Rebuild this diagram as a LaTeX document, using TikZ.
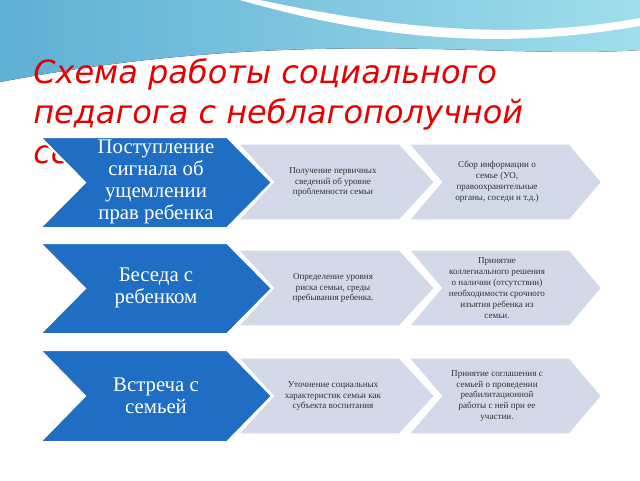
\documentclass[tikz,border=0pt]{standalone}
\usepackage{fontspec}
\setmainfont{Liberation Serif}
\newfontfamily\titlefont{DejaVu Sans}
\definecolor{chevblue}{RGB}{31,110,195}
\definecolor{chevgray}{RGB}{211,217,232}
\definecolor{titlered}{RGB}{230,0,0}
\definecolor{wavedark}{RGB}{95,175,212}
\definecolor{wavelight}{RGB}{160,222,235}
% chevron: style, left, top, tip, bottom, depth
\newcommand{\chevron}[6]{%
  \path[#1] (#2,#3) -- ({#4-#6},#3) -- (#4,{(#3+#5)/2}) -- ({#4-#6},#5)
    -- (#2,#5) -- ({#2+#6},{(#3+#5)/2}) -- cycle;}
\tikzset{
  bluechev/.style={fill=chevblue, draw=white, line width=1.5pt, line join=miter},
  graychev/.style={fill=chevgray, draw=white, line width=2.5pt, line join=miter},
  bluetext/.style={text=white, align=center, font=\fontsize{15.6}{16.5}\selectfont, inner sep=0pt},
  graytext/.style={text=black!80, align=center, font=\fontsize{6.8}{8.2}\selectfont, inner sep=0pt},
}
\begin{document}
\begin{tikzpicture}[x=0.75pt,y=-0.75pt]
\useasboundingbox (0,0) rectangle (640,480);
% top wave
\fill[left color=wavedark, right color=wavelight] (0,0) -- (640,0) -- (640,50)
  .. controls (500,60) and (300,25) .. (0,82) -- cycle;
\fill[white] (260,0) .. controls (400,30) and (520,40) .. (640,18) -- (640,26)
  .. controls (500,50) and (380,40) .. (240,0) -- cycle;
% title
\node[anchor=north west, text=titlered, font=\titlefont\itshape\fontsize{24}{30}\selectfont,
  align=left, inner sep=0pt] (title) at (33,58)
  {Схема работы социального\\педагога с неблагополучной\\семьей};
% row 1
\chevron{graychev}{407}{143}{603}{221}{33}
\chevron{graychev}{236}{143}{436}{221}{36}
\chevron{bluechev}{40}{137}{272}{228}{45}
\node[graytext] (info1) at (497,182)
  {Сбор информации о\\семье (УО,\\правоохранительные\\органы, соседи и т.д.)};
\node[graytext] (first1) at (333,182)
  {Получение первичных\\сведений об уровне\\проблемности семьи};
\node[bluetext] (signal1) at (156,182)
  {Поступление\\сигнала об\\ущемлении\\прав ребенка};
% row 2
\chevron{graychev}{407}{249}{603}{327}{33}
\chevron{graychev}{236}{249}{436}{327}{36}
\chevron{bluechev}{40}{243}{272}{334}{45}
\node[graytext] (decide2) at (497,288)
  {Принятие\\коллегиального решения\\о наличии (отсутствии)\\необходимости срочного\\изъятия ребенка из\\семьи.};
\node[graytext] (risk2) at (333,288)
  {Определение уровня\\риска семьи, среды\\пребывания ребенка.};
\node[bluetext] (talk2) at (156,288)
  {Беседа с\\ребенком};
% row 3
\chevron{graychev}{407}{357}{603}{435}{33}
\chevron{graychev}{236}{357}{436}{435}{36}
\chevron{bluechev}{40}{350}{272}{442}{45}
\node[graytext] (agree3) at (497,396)
  {Принятие соглашения с\\семьей о проведении\\реабилитационной\\работы с ней при ее\\участии.};
\node[graytext] (specify3) at (333,396)
  {Уточнение социальных\\характеристик семьи как\\субъекта воспитания};
\node[bluetext] (meet3) at (156,396)
  {Встреча с\\семьей};
\end{tikzpicture}
\end{document}
